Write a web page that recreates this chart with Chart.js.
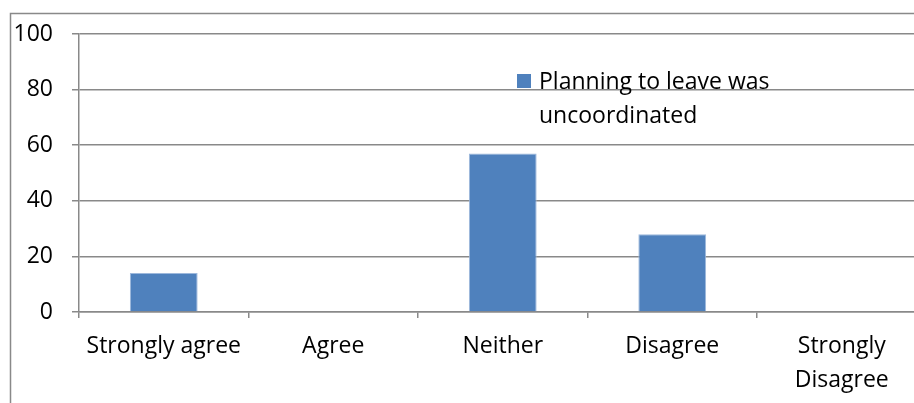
<!DOCTYPE html>
<html>
<head>
<meta charset="utf-8">
<script src="https://cdn.jsdelivr.net/npm/chart.js@4/dist/chart.umd.min.js"></script>
<style>
  html, body { margin: 0; padding: 0; background: #fff; overflow: hidden; }
  #wrap { position: absolute; left: 0; top: 0; width: 940px; height: 403px; }
</style>
</head>
<body>
<div id="wrap"><canvas id="c" width="940" height="403"></canvas></div>
<script>
// Survey responses: "Planning to leave was uncoordinated"
const categories = ['Strongly agree', 'Agree', 'Neither', 'Disagree', ['Strongly', 'Disagree']];
const seriesName = ['Planning to leave was', 'uncoordinated'];
const percentages = [14, 0, 57, 28, 0];
const yTicks = [0, 20, 40, 60, 80, 100];

const FONT = "'Open Sans', 'Liberation Sans', sans-serif";
const FONT_SIZE = 23;
const GREY = '#898989';
const BAR = '#4F81BD';

// Frame around the whole chart
const framePlugin = {
  id: 'frame',
  beforeDraw(chart) {
    const ctx = chart.ctx;
    ctx.save();
    ctx.fillStyle = '#fff';
    ctx.fillRect(0, 0, chart.width, chart.height);
    ctx.strokeStyle = GREY;
    ctx.lineWidth = 1.5;
    ctx.strokeRect(10.5, 13.5, chart.width + 50, chart.height + 50);
    ctx.restore();
  }
};

// Two-line legend drawn inside the plot area
const legendPlugin = {
  id: 'inlineLegend',
  afterDraw(chart, args, opts) {
    const ctx = chart.ctx;
    const a = chart.chartArea;
    const x = a.left + opts.offsetX;
    const y = a.top + opts.offsetY;
    ctx.save();
    ctx.fillStyle = chart.data.datasets[0].backgroundColor;
    ctx.fillRect(x, y, 14, 14);
    ctx.fillStyle = '#000';
    ctx.font = FONT_SIZE + 'px ' + FONT;
    ctx.textBaseline = 'alphabetic';
    ctx.textAlign = 'left';
    seriesName.forEach((line, i) => {
      ctx.fillText(line, x + 22, y + 15 + i * 34);
    });
    ctx.restore();
  }
};

new Chart(document.getElementById('c'), {
  type: 'bar',
  data: {
    labels: categories,
    datasets: [{
      label: seriesName.join(' '),
      data: percentages,
      backgroundColor: BAR,
      borderColor: '#9DB8DC',
      borderWidth: 1,
      barPercentage: 0.4,
      categoryPercentage: 1.0
    }]
  },
  options: {
    responsive: false,
    animation: false,
    devicePixelRatio: 1,
    layout: { padding: { left: 10, top: 34, right: 13.5, bottom: 0 } },
    plugins: {
      legend: { display: false },
      tooltip: { enabled: false },
      inlineLegend: { offsetX: 438, offsetY: 40 }
    },
    scales: {
      x: {
        offset: true,
        grid: {
          offset: true,
          drawOnChartArea: false,
          drawTicks: true,
          tickLength: 6,
          color: GREY,
          lineWidth: 1.5
        },
        border: { color: GREY, width: 1.5 },
        ticks: {
          color: '#000',
          padding: 11,
          maxRotation: 0,
          autoSkip: false,
          font: { family: FONT, size: FONT_SIZE, lineHeight: 1.48 }
        },
        afterFit(scale) { scale.height = 91; }
      },
      y: {
        min: 0,
        max: 100,
        afterBuildTicks(scale) { scale.ticks = yTicks.map(v => ({ value: v })); },
        grid: {
          color: GREY,
          lineWidth: 1.5,
          drawTicks: true,
          tickLength: 7
        },
        border: { color: GREY, width: 1.5 },
        ticks: {
          color: '#000',
          padding: 19,
          font: { family: FONT, size: FONT_SIZE }
        },
        afterFit(scale) { scale.width = 69; }
      }
    }
  },
  plugins: [framePlugin, legendPlugin]
});
</script>
</body>
</html>
